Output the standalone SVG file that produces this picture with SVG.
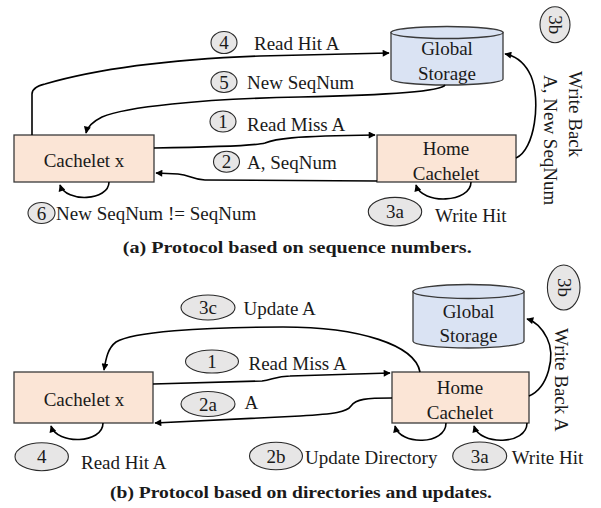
<svg xmlns="http://www.w3.org/2000/svg" width="601" height="508" viewBox="0 0 601 508">
<style>
.box{fill:#FBE5D6;stroke:#3a3a3a;stroke-width:1.3}
.cyl{fill:#DAE3F3;stroke:#3a3a3a;stroke-width:1.3}
.num{fill:#E7E6E6;stroke:#2a2a2a;stroke-width:1.1}
.t{font-family:"Liberation Serif","Times New Roman",serif;font-size:19px;fill:#1a1a1a}
.c{text-anchor:middle}
.cap{font-weight:bold;font-size:17px}
.conn path{fill:none;stroke:#000;stroke-width:1.6;marker-end:url(#arr)}
</style>
<defs>
<marker id="arr" viewBox="0 0 10 10" refX="9" refY="5" markerUnits="userSpaceOnUse" markerWidth="9" markerHeight="7" orient="auto">
<path d="M0,0 L10,5 L0,10 z" fill="#000"/>
</marker>
</defs>

<!-- ===== Part (a) ===== -->
<g id="a-cachelet-x">
<rect class="box" x="14" y="135" width="140" height="47"/>
<text class="t c" x="84" y="167">Cachelet x</text>
</g>
<g id="a-home-cachelet">
<rect class="box" x="377" y="135" width="139" height="47"/>
<text class="t c" x="446" y="155">Home</text>
<text class="t c" x="446" y="180">Cachelet</text>
</g>
<g id="a-global-storage">
<path class="cyl" d="M391,32.5 L391,79 A56,6 0 0 0 503,79 L503,32.5 Z"/>
<ellipse class="cyl" cx="447" cy="32.5" rx="56" ry="6"/>
<text class="t c" x="447" y="55">Global</text>
<text class="t c" x="447" y="80">Storage</text>
</g>

<g id="a-connectors" class="conn">
<path d="M32,135 L32,94 Q32,87 45,84 C100,68 180,59 260,56 L389,53"/>
<path d="M445,85 Q440,94 300,97 C200,99 125,107 102,117 Q88,124 86,133"/>
<path d="M154,148 C220,147 255,146 265,143 C275,139 290,136 375,135"/>
<path d="M377,181 L205,180 C193,180 190,175 178,174 L156,173"/>
<path d="M109,182 C109,201 66,203 60,185"/>
<path d="M471,182 C471,203 422,205 416,185"/>
<path d="M516,158 C535,150 541,100 531,76 C525,63 516,56 505,54"/>
</g>

<g id="a-label-4">
<ellipse class="num" cx="224" cy="42.5" rx="13" ry="11"/>
<text class="t c" x="224" y="49">4</text>
<text class="t" x="254" y="50">Read Hit A</text>
</g>
<g id="a-label-5">
<ellipse class="num" cx="224" cy="82" rx="13" ry="10.5"/>
<text class="t c" x="224" y="88.5">5</text>
<text class="t" x="247" y="89">New SeqNum</text>
</g>
<g id="a-label-1">
<ellipse class="num" cx="223" cy="121.5" rx="13" ry="10.5"/>
<text class="t c" x="223" y="128">1</text>
<text class="t" x="247" y="130.5">Read Miss A</text>
</g>
<g id="a-label-2">
<ellipse class="num" cx="226.5" cy="161.7" rx="13" ry="10.5"/>
<text class="t c" x="226.5" y="168.2">2</text>
<text class="t" x="247" y="169.3">A, SeqNum</text>
</g>
<g id="a-label-6">
<ellipse class="num" cx="41.5" cy="213" rx="13.5" ry="10.5"/>
<text class="t c" x="41.5" y="219.5">6</text>
<text class="t" x="56" y="220">New SeqNum != SeqNum</text>
</g>
<g id="a-label-3a">
<ellipse class="num" cx="395" cy="211.7" rx="26.7" ry="14.3"/>
<text class="t c" x="395" y="218">3a</text>
<text class="t" x="435" y="222">Write Hit</text>
</g>
<g id="a-label-3b">
<ellipse class="num" cx="555" cy="24.7" rx="15" ry="18"/>
<text class="t c" transform="translate(555,24.7) rotate(90)" x="0" y="6">3b</text>
<text class="t" transform="translate(569,71) rotate(90)">Write Back</text>
<text class="t" transform="translate(544,75) rotate(90)">A, New SeqNum</text>
</g>
<text class="t cap" x="122.7" y="253" textLength="349" lengthAdjust="spacingAndGlyphs">(a) Protocol based on sequence numbers.</text>

<!-- ===== Part (b) ===== -->
<g id="b-cachelet-x">
<rect class="box" x="14" y="372" width="139" height="51"/>
<text class="t c" x="84" y="406">Cachelet x</text>
</g>
<g id="b-home-cachelet">
<rect class="box" x="392" y="372" width="137" height="51"/>
<text class="t c" x="460" y="394">Home</text>
<text class="t c" x="460" y="419">Cachelet</text>
</g>
<g id="b-global-storage">
<path class="cyl" d="M413,291.5 L413,341 A55.5,7 0 0 0 524,341 L524,291.5 Z"/>
<ellipse class="cyl" cx="468.5" cy="291.5" rx="55.5" ry="7"/>
<text class="t c" x="468.5" y="318">Global</text>
<text class="t c" x="468.5" y="342">Storage</text>
</g>

<g id="b-connectors" class="conn">
<path d="M420,372 C415,345 360,327 283,327 C200,327 132,332 116,342 C108,348 106,358 104,370"/>
<path d="M153,384 L262,381 C272,380 276,376 290,376 L390,373"/>
<path d="M392,398 C366,398 356,399 351,406 C347,412 335,414 300,416 L155,423"/>
<path d="M103,423 C103,444 57,445 51,426"/>
<path d="M446,423 C446,445 400,446 395,426"/>
<path d="M527,423 C527,445 480,446 474,426"/>
<path d="M529,396 C548,388 556,356 547,338 C541,326 534,321 527,319"/>
</g>

<g id="b-label-3c">
<ellipse class="num" cx="208" cy="307.5" rx="27" ry="12.5"/>
<text class="t c" x="208" y="314">3c</text>
<text class="t" x="243.5" y="315">Update A</text>
</g>
<g id="b-label-1">
<ellipse class="num" cx="212" cy="361.5" rx="26.5" ry="11.5"/>
<text class="t c" x="212" y="368">1</text>
<text class="t" x="248.5" y="370">Read Miss A</text>
</g>
<g id="b-label-2a">
<ellipse class="num" cx="208" cy="404" rx="27" ry="12.5"/>
<text class="t c" x="208" y="410.5">2a</text>
<text class="t" x="244.5" y="409">A</text>
</g>
<g id="b-label-4">
<ellipse class="num" cx="41.7" cy="456.7" rx="26.7" ry="14"/>
<text class="t c" x="41.7" y="463">4</text>
<text class="t" x="81" y="469">Read Hit A</text>
</g>
<g id="b-label-2b">
<ellipse class="num" cx="276" cy="456" rx="26.5" ry="13.7"/>
<text class="t c" x="276" y="462.5">2b</text>
<text class="t" x="305" y="464">Update Directory</text>
</g>
<g id="b-label-3a">
<ellipse class="num" cx="479.7" cy="456" rx="27" ry="14"/>
<text class="t c" x="479.7" y="462.5">3a</text>
<text class="t" x="511.7" y="464">Write Hit</text>
</g>
<g id="b-label-3b">
<ellipse class="num" cx="563.7" cy="287.5" rx="16.3" ry="22.5"/>
<text class="t c" transform="translate(563.7,287.5) rotate(90)" x="0" y="6">3b</text>
<text class="t" transform="translate(554.5,328) rotate(90)">Write Back A</text>
</g>
<text class="t cap" x="110" y="497.5" textLength="382" lengthAdjust="spacingAndGlyphs">(b) Protocol based on directories and updates.</text>
</svg>
